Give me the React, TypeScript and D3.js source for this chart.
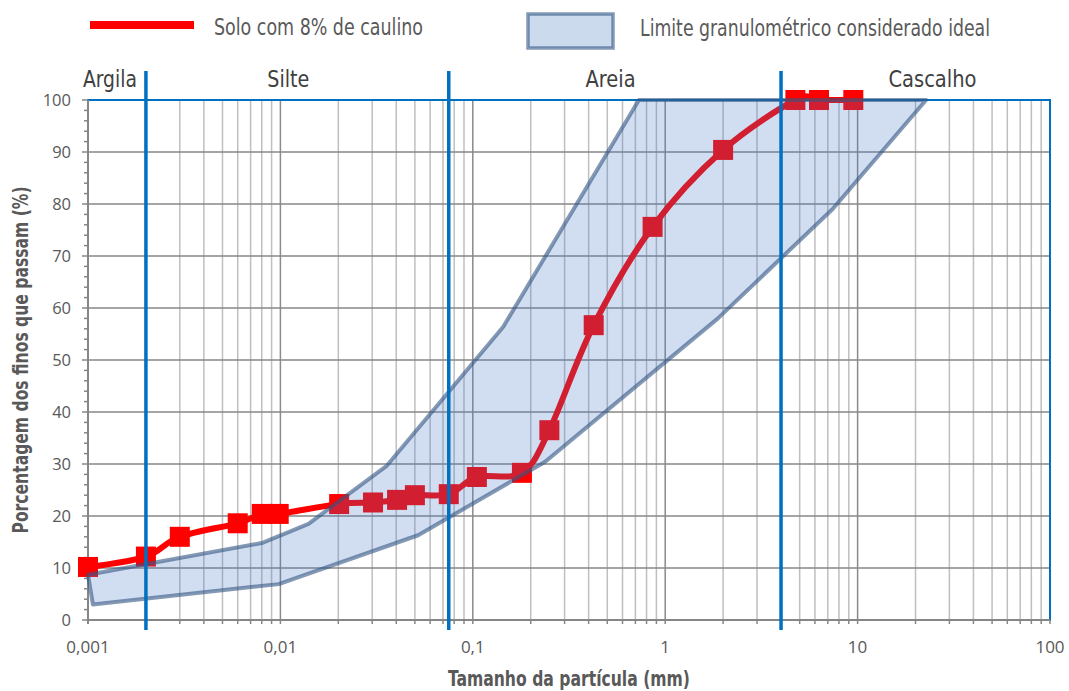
import React from "react";
import * as d3 from "d3";

// Particle size distribution of the soil with 8% kaolin (mm, % passing)
const soilSizes = [0.001, 0.002, 0.003, 0.006, 0.008, 0.0098, 0.0202, 0.0303, 0.0404, 0.05, 0.075, 0.105, 0.18, 0.25, 0.425, 0.86, 2.0, 4.75, 6.3, 9.5];
const soilPassing = [10.2, 12.2, 16.0, 18.6, 20.4, 20.4, 22.3, 22.6, 23.1, 24.0, 24.2, 27.5, 28.3, 36.5, 56.7, 75.6, 90.4, 100, 100, 100];

// Ideal grading envelope: fine limit (upper) and coarse limit (lower)
const upperSizes = [0.001, 0.008, 0.014, 0.0358, 0.144, 0.73, 22.7];
const upperPassing = [8.7, 14.8, 18.5, 29.7, 56.4, 100, 100];
const lowerSizes = [22.7, 7.4, 1.88, 0.237, 0.052, 0.0098, 0.00106];
const lowerPassing = [100, 79, 58, 30.4, 16.3, 6.9, 3];

// Soil class boundaries and their labels
const boundaries = [0.002, 0.075, 4];
const zoneNames = ["Argila", "Silte", "Areia", "Cascalho"];
const zoneCenters = [0.0013, 0.011, 0.52, 24.5];
const zoneWidths = [54, 42, 50, 88];

const xTickValues = [0.001, 0.01, 0.1, 1, 10, 100];
const xTickLabels = ["0,001", "0,01", "0,1", "1", "10", "100"];
const yTickValues = [0, 10, 20, 30, 40, 50, 60, 70, 80, 90, 100];

const W = 1069;
const H = 691;
const left = 88, right = 1050, top = 100, bottom = 620;

const titleFont = "'Liberation Sans Narrow', 'DejaVu Sans Condensed', 'Liberation Sans', sans-serif";
const tickFont = "'Open Sans', 'Noto Sans', sans-serif";
const blue = "#0070C0";

export default function App() {
  const x = d3.scaleLog().domain([0.001, 100]).range([left, right]);
  const y = d3.scaleLinear().domain([0, 100]).range([bottom, top]);

  // minor log positions 2..9 in each decade
  const minor: number[] = [];
  for (let e = -3; e < 2; e++) {
    for (let m = 2; m <= 9; m++) minor.push(m * Math.pow(10, e));
  }
  const yMinor = d3.range(0, 101, 2).filter((v) => v % 10 !== 0);

  const soil = soilSizes.map((s, i) => [s, soilPassing[i]] as [number, number]);
  const envelope = [
    ...upperSizes.map((s, i) => [s, upperPassing[i]] as [number, number]),
    ...lowerSizes.map((s, i) => [s, lowerPassing[i]] as [number, number]),
  ];

  const soilPath = d3
    .line<[number, number]>()
    .x((d) => x(d[0]))
    .y((d) => y(d[1]))
    .curve(d3.curveCardinal.tension(0))(soil) as string;

  const envPath =
    (d3
      .line<[number, number]>()
      .x((d) => x(d[0]))
      .y((d) => y(d[1]))(envelope) as string) + "Z";

  const ms = 20;

  return (
    <svg
      width={W}
      height={H}
      style={{ position: "fixed", left: 0, top: 0, background: "#fff" }}
      xmlns="http://www.w3.org/2000/svg"
    >
      {/* legend */}
      <line x1={90} x2={194} y1={25} y2={25} stroke="#FF0000" strokeWidth={8} />
      <text x={214} y={35} fontFamily={titleFont} fontSize={23} fill="#595959" textLength={209} lengthAdjust="spacingAndGlyphs">
        Solo com 8% de caulino
      </text>
      <rect x={528} y={14} width={85} height={34} fill="rgba(73,121,194,0.28)" stroke="rgba(50,85,130,0.6)" strokeWidth={3.5} />
      <text x={640} y={36} fontFamily={titleFont} fontSize={23} fill="#595959" textLength={350} lengthAdjust="spacingAndGlyphs">
        Limite granulométrico considerado ideal
      </text>

      {/* plot area border */}
      <rect x={left} y={top} width={right - left} height={bottom - top} fill="none" stroke={blue} strokeWidth={2} />

      {/* grid */}
      {minor.map((v) => (
        <line key={"mv" + v} x1={x(v)} x2={x(v)} y1={top + 1} y2={bottom} stroke="#bfbfbf" strokeWidth={1.5} />
      ))}
      {xTickValues.slice(1, -1).map((v) => (
        <line key={"Mv" + v} x1={x(v)} x2={x(v)} y1={top + 1} y2={bottom} stroke="#8a8a8a" strokeWidth={1.5} />
      ))}
      {yTickValues.slice(1, -1).map((v) => (
        <line key={"gh" + v} x1={left} x2={right - 1} y1={y(v)} y2={y(v)} stroke="#878787" strokeWidth={1.5} />
      ))}

      {/* axes */}
      <line x1={left} x2={right} y1={bottom} y2={bottom} stroke="#868686" strokeWidth={2} />
      <line x1={left} x2={left} y1={top} y2={bottom + 4} stroke="#868686" strokeWidth={2} />
      {yTickValues.map((v) => (
        <line key={"yt" + v} x1={left - 6} x2={left} y1={y(v)} y2={y(v)} stroke="#868686" strokeWidth={1.5} />
      ))}
      {yMinor.map((v) => (
        <line key={"ym" + v} x1={left - 4} x2={left} y1={y(v)} y2={y(v)} stroke="#868686" strokeWidth={1.5} />
      ))}
      {[...xTickValues, ...minor].map((v) => (
        <line key={"xt" + v} x1={x(v)} x2={x(v)} y1={bottom} y2={bottom + 4} stroke="#868686" strokeWidth={1.5} />
      ))}
      {yTickValues.map((v) => (
        <text key={"yl" + v} x={71} y={y(v) + 6} textAnchor="end" fontFamily={tickFont} fontSize={16.5} fill="#595959">
          {v}
        </text>
      ))}
      {xTickValues.map((v, i) => (
        <text key={"xl" + v} x={x(v)} y={653} textAnchor="middle" fontFamily={tickFont} fontSize={17} fill="#595959">
          {xTickLabels[i]}
        </text>
      ))}

      {/* soil curve */}
      <path d={soilPath} fill="none" stroke="#FF0000" strokeWidth={6} />
      {soil.map((d, i) => (
        <rect key={"m" + i} x={x(d[0]) - ms / 2} y={y(d[1]) - ms / 2} width={ms} height={ms} fill="#FF0000" />
      ))}

      {/* ideal envelope */}
      <path d={envPath} fill="rgba(73,121,194,0.25)" stroke="rgba(50,85,130,0.6)" strokeWidth={4} strokeLinejoin="round" />

      {/* class boundaries */}
      {boundaries.map((b) => (
        <line key={"b" + b} x1={x(b)} x2={x(b)} y1={71} y2={630} stroke={blue} strokeWidth={3.5} />
      ))}
      {zoneNames.map((n, i) => (
        <text key={n} x={x(zoneCenters[i])} y={87} textAnchor="middle" fontFamily={titleFont} fontSize={23} fill="#404040" textLength={zoneWidths[i]} lengthAdjust="spacingAndGlyphs">
          {n}
        </text>
      ))}

      {/* axis titles */}
      <text x={569} y={686} textAnchor="middle" fontFamily={titleFont} fontSize={22} fontWeight="bold" fill="#595959" textLength={242} lengthAdjust="spacingAndGlyphs">
        Tamanho da partícula (mm)
      </text>
      <text
        transform="translate(28,360) rotate(-90)"
        textAnchor="middle"
        fontFamily={titleFont}
        fontSize={22}
        fontWeight="bold"
        fill="#595959"
        textLength={347}
        lengthAdjust="spacingAndGlyphs"
      >
        Porcentagem dos finos que passam (%)
      </text>
    </svg>
  );
}
